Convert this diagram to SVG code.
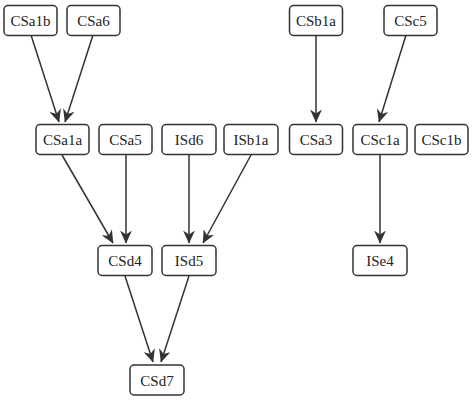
<svg xmlns="http://www.w3.org/2000/svg" width="475" height="405" viewBox="0 0 475 405">
<style>
.n rect{fill:#fff;stroke:#333;stroke-width:1.5}
.e line{stroke:#333;stroke-width:1.5;marker-end:url(#ah)}
</style>
<defs>
<marker id="ah" markerUnits="userSpaceOnUse" markerWidth="13" markerHeight="12" refX="12.5" refY="6" orient="auto" viewBox="0 0 13 12">
<path d="M0,0 L13,6 L0,12 L4,6 z" fill="#333"/>
</marker>
</defs>
<rect width="475" height="405" fill="#fff"/>
<g id="connectors" class="e">
<line x1="31" y1="35" x2="59" y2="122"/>
<line x1="93" y1="35" x2="65" y2="122"/>
<line x1="316" y1="35" x2="316" y2="122"/>
<line x1="406" y1="35" x2="379" y2="122"/>
<line x1="62" y1="155" x2="113" y2="243"/>
<line x1="126" y1="155" x2="126" y2="243"/>
<line x1="189" y1="155" x2="189" y2="243"/>
<line x1="251" y1="155" x2="203" y2="243"/>
<line x1="380" y1="155" x2="380" y2="243"/>
<line x1="125" y1="276" x2="153" y2="362"/>
<line x1="189" y1="276" x2="161" y2="362"/>
</g>
<g font-family="Liberation Serif, serif" font-size="15" fill="#222" text-anchor="middle">
<g id="CSa1b" class="n"><rect x="4" y="5.5" width="53" height="30" rx="4"/><text x="30.5" y="26">CSa1b</text></g>
<g id="CSa6" class="n"><rect x="67" y="5.5" width="53" height="30" rx="4"/><text x="93.5" y="26">CSa6</text></g>
<g id="CSb1a" class="n"><rect x="289.5" y="5.5" width="53" height="30" rx="4"/><text x="316" y="26">CSb1a</text></g>
<g id="CSc5" class="n"><rect x="384" y="5.5" width="53" height="30" rx="4"/><text x="410.5" y="26">CSc5</text></g>
<g id="CSa1a" class="n"><rect x="36" y="124.5" width="53" height="30" rx="4"/><text x="62.5" y="145">CSa1a</text></g>
<g id="CSa5" class="n"><rect x="99" y="124.5" width="53" height="30" rx="4"/><text x="125.5" y="145">CSa5</text></g>
<g id="ISd6" class="n"><rect x="162" y="124.5" width="54" height="30" rx="4"/><text x="189" y="145">ISd6</text></g>
<g id="ISb1a" class="n"><rect x="224" y="124.5" width="54" height="30" rx="4"/><text x="251" y="145">ISb1a</text></g>
<g id="CSa3" class="n"><rect x="289.5" y="124.5" width="53" height="30" rx="4"/><text x="316" y="145">CSa3</text></g>
<g id="CSc1a" class="n"><rect x="353" y="124.5" width="54" height="30" rx="4"/><text x="380" y="145">CSc1a</text></g>
<g id="CSc1b" class="n"><rect x="415" y="124.5" width="53" height="30" rx="4"/><text x="441.5" y="145">CSc1b</text></g>
<g id="CSd4" class="n"><rect x="98" y="245.5" width="54" height="30" rx="4"/><text x="125" y="266">CSd4</text></g>
<g id="ISd5" class="n"><rect x="162" y="245.5" width="54" height="30" rx="4"/><text x="189" y="266">ISd5</text></g>
<g id="ISe4" class="n"><rect x="353" y="245.5" width="54" height="30" rx="4"/><text x="380" y="266">ISe4</text></g>
<g id="CSd7" class="n"><rect x="130" y="365" width="54" height="30" rx="4"/><text x="157" y="385.5">CSd7</text></g>
</g>
</svg>
